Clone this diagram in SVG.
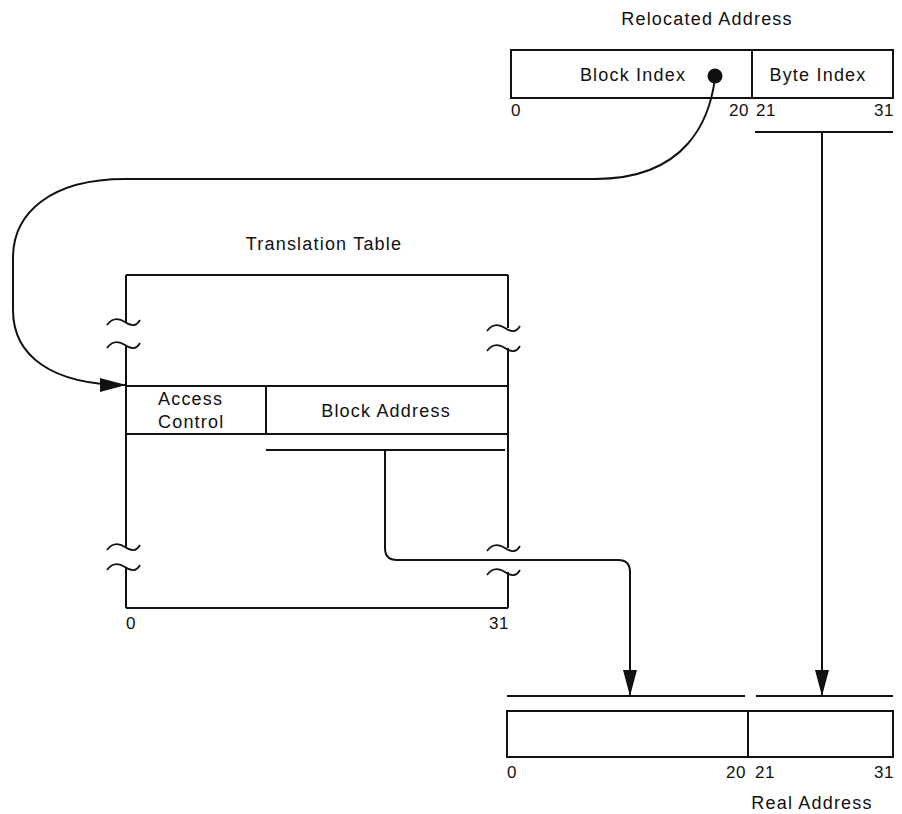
<svg xmlns="http://www.w3.org/2000/svg" width="902" height="814" viewBox="0 0 902 814">
  <defs>
    <style>
      text { font-family: "Liberation Sans", Arial, sans-serif; font-size: 18px; letter-spacing: 1.2px; fill: #111; }
      text.num { font-size: 17px; letter-spacing: 0.5px; }
      .mid { text-anchor: middle; }
      .end { text-anchor: end; }
      .box { fill: none; stroke: #111; stroke-width: 2; }
      .ln { fill: none; stroke: #111; stroke-width: 2; }
      .brk { fill: none; stroke: #111; stroke-width: 1.8; }
    </style>
    <marker id="arrow" markerWidth="28" markerHeight="16" refX="26" refY="8" orient="auto" markerUnits="userSpaceOnUse">
      <path d="M0,1 L26,8 L0,15 Z" fill="#111"/>
    </marker>
    <path id="tilde" d="M-18,3 C-12,-5 -6,-4 0,0 S11,5 15,-2"/>
  </defs>

  <!-- Relocated address register -->
  <g id="relocated-address">
    <text class="mid" x="707" y="25">Relocated Address</text>
    <rect class="box" x="511" y="50" width="382" height="48"/>
    <line class="ln" x1="752" y1="50" x2="752" y2="98"/>
    <text class="mid" x="633" y="81">Block Index</text>
    <text class="mid" x="818" y="81">Byte Index</text>
    <text class="num" x="511" y="116">0</text>
    <text class="num end" x="749" y="116">20</text>
    <text class="num" x="756" y="116">21</text>
    <text class="num end" x="894" y="116">31</text>
    <line class="ln" x1="755" y1="132" x2="893" y2="132"/>
  </g>

  <!-- Translation table with elided regions -->
  <g id="translation-table">
    <text class="mid" x="324" y="250">Translation Table</text>
    <!-- top edge -->
    <line class="ln" x1="126" y1="275" x2="508" y2="275"/>
    <!-- left edge, broken twice -->
    <path class="ln" d="M126,275 V322 M126,345 V547 M126,567 V608"/>
    <!-- right edge, broken twice -->
    <path class="ln" d="M508,275 V328 M508,348 V548 M508,572 V608"/>
    <!-- bottom edge -->
    <line class="ln" x1="126" y1="608" x2="508" y2="608"/>
    <!-- break marks -->
    <use href="#tilde" class="brk" transform="translate(125,322)"/>
    <use href="#tilde" class="brk" transform="translate(125,345)"/>
    <use href="#tilde" class="brk" transform="translate(505,328)"/>
    <use href="#tilde" class="brk" transform="translate(505,348)"/>
    <use href="#tilde" class="brk" transform="translate(125,547)"/>
    <use href="#tilde" class="brk" transform="translate(125,567)"/>
    <use href="#tilde" class="brk" transform="translate(505,548)"/>
    <use href="#tilde" class="brk" transform="translate(505,572)"/>
    <text class="num" x="126" y="629">0</text>
    <text class="num end" x="509" y="629">31</text>
  </g>

  <!-- Selected table entry -->
  <g id="table-entry">
    <line class="ln" x1="126" y1="386" x2="508" y2="386"/>
    <line class="ln" x1="126" y1="434" x2="508" y2="434"/>
    <line class="ln" x1="266" y1="386" x2="266" y2="434"/>
    <text x="158" y="405">Access</text>
    <text x="158" y="428">Control</text>
    <text class="mid" x="386" y="417">Block Address</text>
    <line class="ln" x1="266" y1="450" x2="505" y2="450"/>
  </g>

  <!-- Real address register -->
  <g id="real-address">
    <line class="ln" x1="507" y1="696" x2="745" y2="696"/>
    <line class="ln" x1="756" y1="696" x2="893" y2="696"/>
    <rect class="box" x="507" y="711" width="386" height="46"/>
    <line class="ln" x1="748" y1="711" x2="748" y2="757"/>
    <text class="num" x="507" y="778">0</text>
    <text class="num end" x="746" y="778">20</text>
    <text class="num" x="755" y="778">21</text>
    <text class="num end" x="894" y="778">31</text>
    <text class="mid" x="812" y="809">Real Address</text>
  </g>

  <!-- Connectors -->
  <g id="connectors">
    <circle cx="715" cy="76" r="7.5" fill="#111"/>
    <path class="ln" marker-end="url(#arrow)"
          d="M715,78 C710,118 688,179 595,179 L125,179 C52,179 13,212 13,258 L13,310 C13,356 52,385 126,385"/>
    <path class="ln" marker-end="url(#arrow)"
          d="M385,450 V548 Q385,560 397,560 H618 Q630,560 630,572 V696"/>
    <path class="ln" marker-end="url(#arrow)" d="M822,132 V696"/>
  </g>
</svg>
